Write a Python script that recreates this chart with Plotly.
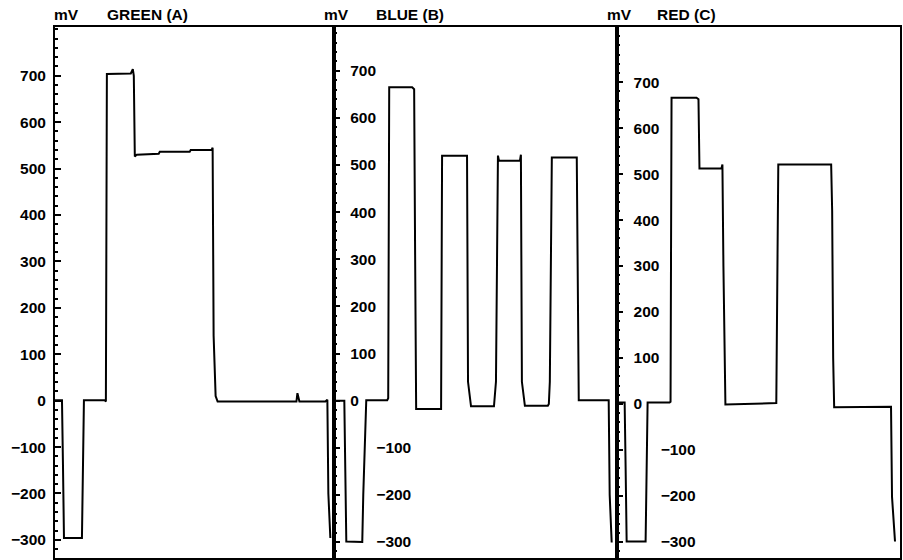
import plotly.graph_objects as go

# panel A (green) - time in arbitrary units, potential in mV
t_green = [0, 7, 8, 9, 27, 29, 50, 51, 52, 76, 78, 79, 80, 82, 104, 105, 135, 136,
           157, 158, 159, 161, 163, 242, 243, 245, 271, 273, 274, 276]
mv_green = [1, 1, -140, -296, -296, 1, 1, -2, 704, 705, 714, 700, 526, 530, 532, 536, 536, 540,
            540, 545, 140, 10, -2, -2, 16, -2, -2, 2, -200, -296]

# panel B (blue)
t_blue = [1, 10, 11, 12, 28, 29, 32, 53, 54, 55, 78, 80, 81, 82, 107, 108, 133, 134, 137,
          160, 162, 164, 165, 186, 187, 188, 191, 214, 215, 216, 218, 243, 245, 275, 276, 278]
mv_blue = [0, 0, -150, -299, -300, -200, 1, 1, 5, 665, 665, 661, 300, -18, -18, 520, 520, 40, -12,
           -12, 40, 520, 509, 509, 522, 40, -11, -11, -7, 40, 516, 516, 1, 1, -200, -301]

# panel C (red)
t_red = [0, 8, 9, 10, 29, 30, 31, 53, 54, 55, 80, 82, 83, 105, 106, 107, 109, 160, 162,
         215, 216, 217, 218, 275, 276, 279]
mv_red = [3, 3, -143, -299, -299, -100, 3, 3, 5, 666, 666, 663, 512, 512, 521, 300, -1, 2, 521,
          521, 420, 100, -7, -6, -202, -299]

panels = ["GREEN (A)", "BLUE (B)", "RED (C)"]
unit = "mV"
ticks_pos = [0, 100, 200, 300, 400, 500, 600, 700]
ticks_neg = [-300, -200, -100]

W, H = 903, 560
L, R, T, B = 55, 1, 27, 2
pw, ph = W - L - R, H - T - B


def px_x(px):
    return (px - L) / pw


def px_y(py):
    return (H - B - py) / ph


FONT = dict(family="Liberation Sans, Arial, sans-serif", size=15.5, color="black", weight="bold")

fig = go.Figure()
series = [(t_green, mv_green), (t_blue, mv_blue), (t_red, mv_red)]
for i, (t, v) in enumerate(series):
    sx = "" if i == 0 else str(i + 1)
    fig.add_trace(go.Scatter(x=t, y=v, mode="lines", xaxis="x" + sx, yaxis="y" + sx,
                             line=dict(color="black", width=2), showlegend=False,
                             hoverinfo="skip"))

# panel edges in px and y ranges
edges = [55, 335, 618, 902]
xranges = [[0, 280], [0, 283], [0, 284]]
yranges = [[-339, 805], [-334, 793], [-335, 820]]
# label standoff (positive labels, negative labels) for panels B and C
standoffs = [None, (10, 39), (11, 41)]

axis_common = dict(showline=True, linecolor="black", linewidth=2, mirror=True,
                   showgrid=False, zeroline=False)

layout = dict(width=W, height=H, autosize=False,
              margin=dict(l=L, r=R, t=T, b=B),
              plot_bgcolor="white", paper_bgcolor="white",
              font=FONT, showlegend=False)

for i in range(3):
    sx = "" if i == 0 else str(i + 1)
    dom = [px_x(edges[i]), min(1, px_x(edges[i + 1]))]
    layout["xaxis" + sx] = dict(axis_common, domain=dom, range=xranges[i],
                                anchor="y" + sx, showticklabels=False, ticks="")
    yax = dict(axis_common, range=yranges[i], anchor="x" + sx,
               ticks="inside", ticklen=6, tickwidth=2, tickcolor="black",
               minor=dict(dtick=20, tick0=0, ticks="inside", ticklen=3,
                          tickwidth=1.5, tickcolor="black"),
               tickfont=FONT)
    if i == 0:
        yax.update(tickvals=ticks_neg + ticks_pos, ticklabelposition="outside",
                   ticklabelstandoff=4)
    else:
        so_pos, so_neg = standoffs[i]
        yax.update(tickvals=ticks_pos + ticks_neg,
                   ticktext=[str(v) for v in ticks_pos] + [""] * len(ticks_neg),
                   ticklabelposition="inside", ticklabelstandoff=so_pos)
        # overlay axis for the negative labels, set further in
        ov = str(i + 3)
        layout["yaxis" + ov] = dict(range=yranges[i], overlaying="y" + sx, anchor="x" + sx,
                                    showline=False, showgrid=False, zeroline=False,
                                    ticks="", tickvals=ticks_neg,
                                    ticklabelposition="inside", ticklabelstandoff=so_neg,
                                    tickfont=FONT)
    layout["yaxis" + sx] = yax

fig.update_layout(**layout)
# dummy traces so overlay axes render
for i in range(1, 3):
    fig.add_trace(go.Scatter(x=[None], y=[None], xaxis="x" + str(i + 1),
                             yaxis="y" + str(i + 3), showlegend=False))

title_px = [(52, 105), (323, 375), (606, 656)]
for (ux, tx), name in zip(title_px, panels):
    fig.add_annotation(text=unit, x=px_x(ux), y=px_y(15), xref="paper", yref="paper",
                       xanchor="left", yanchor="middle", showarrow=False, font=FONT)
    fig.add_annotation(text=name, x=px_x(tx), y=px_y(15), xref="paper", yref="paper",
                       xanchor="left", yanchor="middle", showarrow=False, font=FONT)

fig.write_html("out.html", config={"displayModeBar": False},
               post_script="document.body.style.margin='0';")
